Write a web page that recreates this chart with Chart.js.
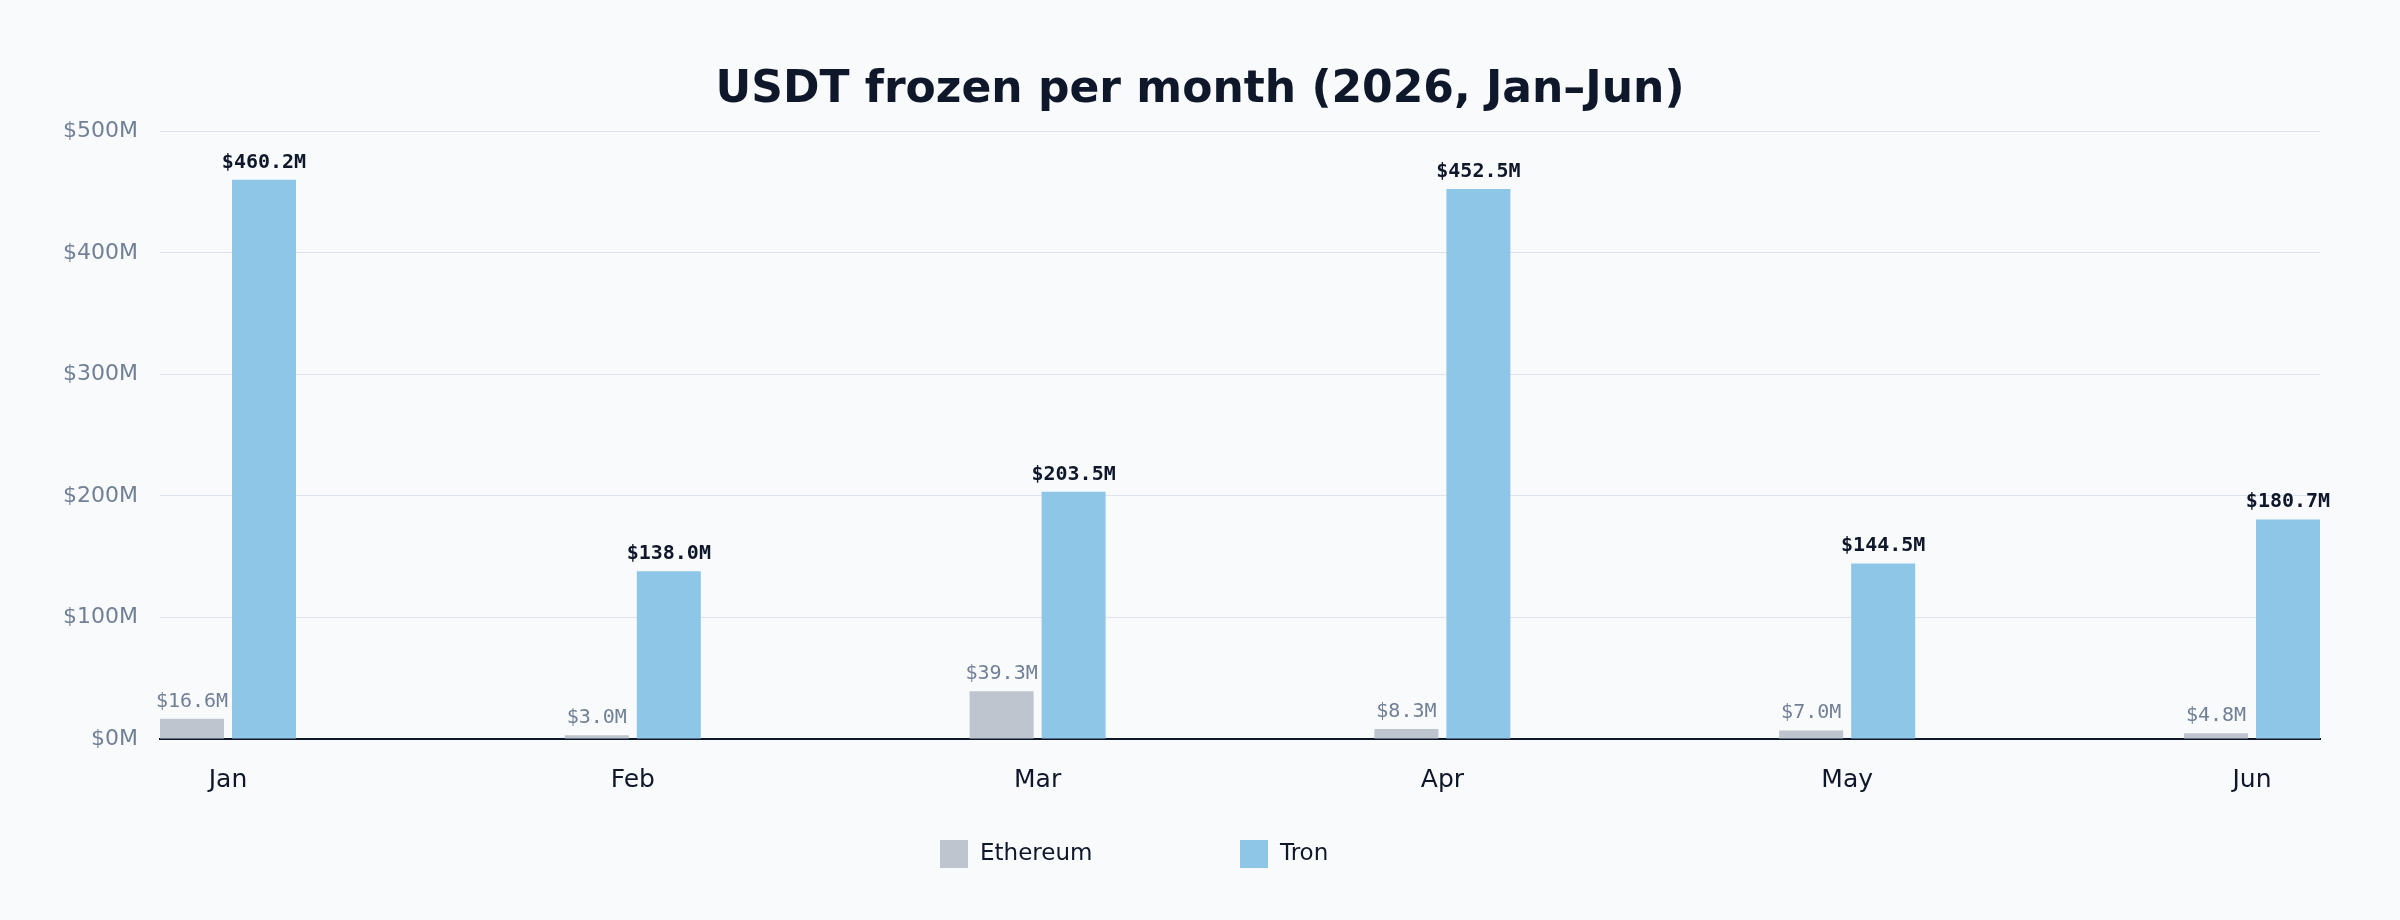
<!DOCTYPE html>
<html>
<head>
<meta charset="utf-8">
<style>
  html, body { margin: 0; padding: 0; background: #f8fafc; }
  #wrap { width: 2400px; height: 920px; }
</style>
<script src="https://cdn.jsdelivr.net/npm/chart.js@4.4.1/dist/chart.umd.min.js"></script>
</head>
<body>
<div id="wrap"><canvas id="c" width="2400" height="920"></canvas></div>
<script>
const MONTHS = ['Jan', 'Feb', 'Mar', 'Apr', 'May', 'Jun'];
const ETHEREUM = [16.6, 3.0, 39.3, 8.3, 7.0, 4.8];
const TRON = [460.2, 138.0, 203.5, 452.5, 144.5, 180.7];
const Y_TICKS = [0, 100, 200, 300, 400, 500];
const TITLE = 'USDT frozen per month (2026, Jan\u2013Jun)';

const SANS = "'DejaVu Sans', sans-serif";
const MONO = "'DejaVu Sans Mono', monospace";
const COL_ETH = '#bfc5ce';
const COL_TRON = '#8ec6e7';

const bgPlugin = {
  id: 'bg',
  beforeDraw(chart) {
    const ctx = chart.ctx;
    ctx.save();
    ctx.fillStyle = '#f8fafc';
    ctx.fillRect(0, 0, chart.width, chart.height);
    ctx.restore();
  }
};

const valueLabels = {
  id: 'valueLabels',
  afterDatasetsDraw(chart) {
    const ctx = chart.ctx;
    ctx.save();
    ctx.textAlign = 'center';
    ctx.textBaseline = 'alphabetic';
    chart.data.datasets.forEach((ds, di) => {
      const meta = chart.getDatasetMeta(di);
      meta.data.forEach((el, i) => {
        const v = ds.data[i].y;
        ctx.font = (di === 1 ? 'bold ' : '') + '20px ' + MONO;
        ctx.fillStyle = di === 1 ? '#0f172a' : '#718096';
        ctx.fillText('$' + v.toFixed(1) + 'M', el.x, el.y - 12);
      });
    });
    ctx.restore();
  }
};

const customLegend = {
  id: 'customLegend',
  afterDraw(chart) {
    const ctx = chart.ctx;
    const xs = [940, 1240];
    ctx.save();
    ctx.font = '23px ' + SANS;
    ctx.textBaseline = 'middle';
    ctx.textAlign = 'left';
    chart.data.datasets.forEach((ds, i) => {
      ctx.fillStyle = ds.backgroundColor;
      ctx.fillRect(xs[i], 840, 28, 28);
      ctx.fillStyle = '#0f172a';
      ctx.fillText(ds.label, xs[i] + 40, 854);
    });
    ctx.restore();
  }
};

new Chart(document.getElementById('c'), {
  type: 'bar',
  data: {
    datasets: [
      {
        label: 'Ethereum',
        data: ETHEREUM.map((v, i) => ({ x: i, y: v })),
        backgroundColor: COL_ETH,
        categoryPercentage: 0.35573,
        barPercentage: 0.88889
      },
      {
        label: 'Tron',
        data: TRON.map((v, i) => ({ x: i, y: v })),
        backgroundColor: COL_TRON,
        categoryPercentage: 0.35573,
        barPercentage: 0.88889
      }
    ]
  },
  options: {
    responsive: false,
    devicePixelRatio: 1,
    animation: false,
    layout: { padding: { left: 0, right: 0, top: 64, bottom: 128 } },
    plugins: {
      legend: { display: false },
      tooltip: { enabled: false },
      title: {
        display: true,
        text: TITLE,
        color: '#0f172a',
        font: { family: SANS, size: 44, weight: 'bold' },
        padding: { top: 0, bottom: 14.6 }
      }
    },
    scales: {
      x: {
        type: 'linear',
        offset: false,
        min: -0.168,
        max: 5.168,
        afterBuildTicks(axis) { axis.ticks = MONTHS.map((m, i) => ({ value: i })); },
        afterFit(axis) { axis.height = 53; },
        ticks: {
          callback: (v) => MONTHS[v],
          color: '#0f172a',
          font: { family: SANS, size: 25 },
          padding: 26,
          maxRotation: 0,
          autoSkip: false
        },
        grid: { display: false, drawTicks: false, offset: false },
        border: { display: true, color: '#0f172a', width: 2 }
      },
      y: {
        min: 0,
        max: 500,
        afterBuildTicks(axis) { axis.ticks = Y_TICKS.map(v => ({ value: v })); },
        afterFit(axis) { axis.width = 160; },
        ticks: {
          callback: (v) => '$' + v + 'M',
          color: '#718096',
          font: { family: SANS, size: 22 },
          padding: 22
        },
        grid: { color: '#dce3ec', lineWidth: 1, drawTicks: false },
        border: { display: false }
      },
      yRight: {
        position: 'right',
        display: true,
        min: 0,
        max: 500,
        afterFit(axis) { axis.width = 80; },
        ticks: { display: false },
        grid: { display: false, drawTicks: false, drawOnChartArea: false },
        border: { display: false }
      }
    }
  },
  plugins: [bgPlugin, valueLabels, customLegend]
});
</script>
</body>
</html>
